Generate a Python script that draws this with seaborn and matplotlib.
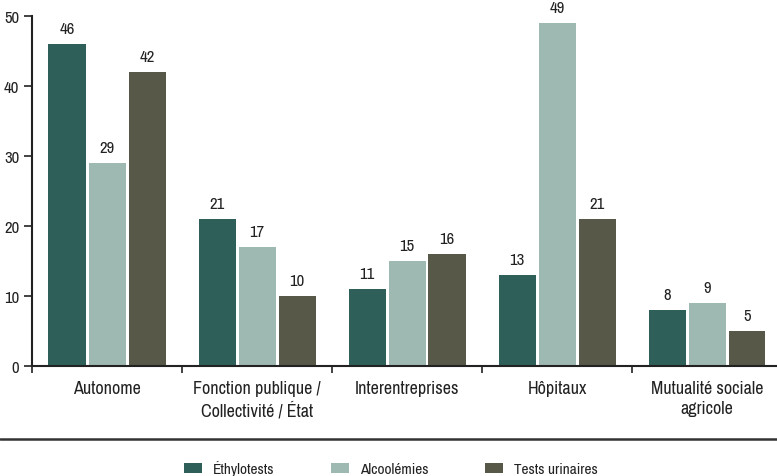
import matplotlib
matplotlib.use("Agg")
import matplotlib.pyplot as plt
import seaborn as sns
import pandas as pd
from matplotlib.patches import Patch
from matplotlib.lines import Line2D
from matplotlib.ticker import FixedLocator

categories = ["Autonome", "Fonction publique /\nCollectivité / État", "Interentreprises",
              "Hôpitaux", "Mutualité sociale\nagricole"]
series = ["Éthylotests", "Alcoolémies", "Tests urinaires"]
ethylotests = [46, 21, 11, 13, 8]
alcoolemies = [29, 17, 15, 49, 9]
tests_urinaires = [42, 10, 16, 21, 5]
colors = ["#2e5f58", "#9eb8b2", "#585848"]
yticks = [0, 10, 20, 30, 40, 50]

df = pd.DataFrame({
    "cat": categories * 3,
    "serie": [s for s in series for _ in categories],
    "val": ethylotests + alcoolemies + tests_urinaires,
})

sns.set_theme(style="white")
plt.rcParams["font.family"] = ["Archivo Narrow", "DejaVu Sans"]

TXT = "#222222"
W, H = 777, 477
fig = plt.figure(figsize=(W / 100, H / 100), dpi=100)
ax = fig.add_axes([32 / W, (H - 367) / H, 750 / W, 350 / H])

sns.barplot(data=df, x="cat", y="val", hue="serie", order=categories, hue_order=series,
            palette=colors, width=0.8, gap=0.075, saturation=1, linewidth=0, ax=ax, legend=False)

for cont in ax.containers:
    for bar in cont:
        h = bar.get_height()
        ax.annotate(f"{h:.0f}", (bar.get_x() + bar.get_width() / 2, h),
                    xytext=(0, 5.5), textcoords="offset points", ha="center", va="bottom",
                    fontsize=12, color=TXT, annotation_clip=False)

ax.set_xlim(-0.5, 4.5)
ax.set_ylim(0, 50)
ax.set_yticks(yticks)
ax.set_yticklabels([str(t) for t in yticks], fontsize=12, color=TXT)
ax.set_xticks(range(len(categories)))
ax.set_xticklabels(categories, fontsize=13, color=TXT, linespacing=1.35)
ax.xaxis.set_minor_locator(FixedLocator([i - 0.5 for i in range(len(categories) + 1)]))
ax.tick_params(axis="x", which="major", length=0, pad=10)
ax.tick_params(axis="x", which="minor", length=5, width=1.2, color=TXT, direction="out", bottom=True)
ax.tick_params(axis="y", which="major", length=6, width=1.2, color=TXT, direction="out", left=True, pad=3)
ax.set_xlabel("")
ax.set_ylabel("")
for s in ["top", "right"]:
    ax.spines[s].set_visible(False)
for s in ["left", "bottom"]:
    ax.spines[s].set_color(TXT)
    ax.spines[s].set_linewidth(1.5)

fig.add_artist(Line2D([0, 1], [(H - 440) / H] * 2, color="#333333", linewidth=1.8,
                      transform=fig.transFigure))

handles = [Patch(facecolor=c, edgecolor="none") for c in colors]
fig.legend(handles, series, loc="center", bbox_to_anchor=(0.503, (H - 469) / H), ncol=3,
           frameon=False, fontsize=11, handlelength=1.2, handleheight=0.65,
           columnspacing=3.7, handletextpad=0.7, labelcolor=TXT)

fig.savefig("out.png", dpi=100)
